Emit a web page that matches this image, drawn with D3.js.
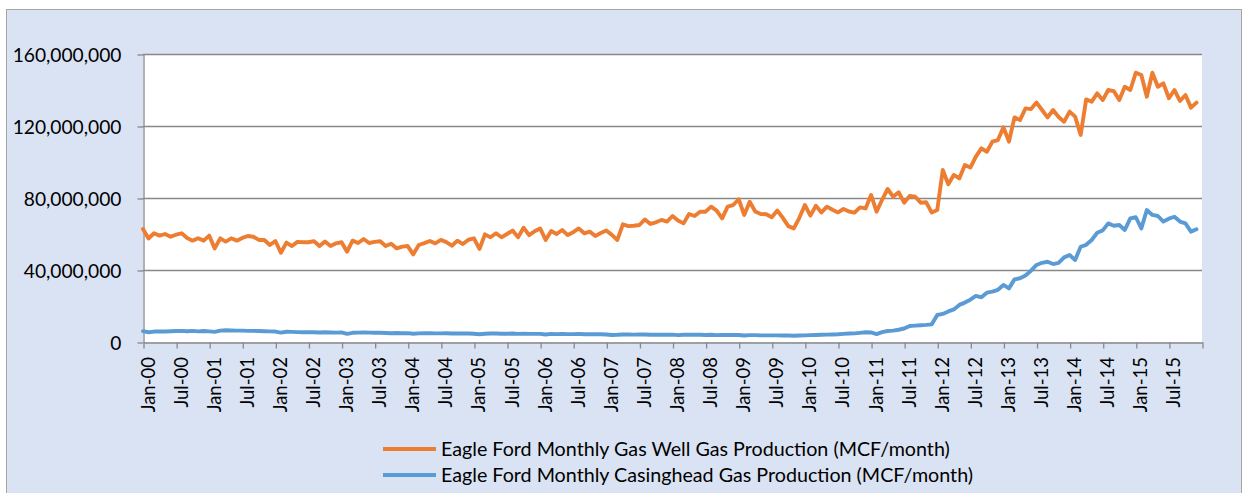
<!DOCTYPE html>
<html>
<head>
<meta charset="utf-8">
<script src="https://cdn.jsdelivr.net/npm/d3@7"></script>
<style>
  html, body { margin: 0; padding: 0; background: #ffffff; }
  svg { display: block; }
  text { font-family: Lato, "Open Sans", sans-serif; fill: #000; }
</style>
</head>
<body>
<svg id="chart" width="1243" height="493"></svg>
<script>
// ---- Data (million MCF/month), monthly Jan-2000 .. Dec-2015 ----
const startYear = 2000;
const monthNames = ["Jan","Feb","Mar","Apr","May","Jun","Jul","Aug","Sep","Oct","Nov","Dec"];
const seriesNames = [
  "Eagle Ford Monthly Gas Well Gas Production (MCF/month)",
  "Eagle Ford Monthly Casinghead Gas Production (MCF/month)"
];
const gasWell = [
  62.8,57.5,60.4,59.1,60.0,58.5,59.6,60.4,57.8,56.3,57.6,56.3,
  59.1,52.0,57.6,55.8,57.6,56.3,57.8,58.9,58.5,56.7,56.7,53.9,
  56.1,49.6,55.2,53.3,55.6,55.4,55.4,56.0,53.3,55.8,53.3,54.8,
  55.4,50.2,56.3,55.0,57.2,55.0,55.6,56.0,53.3,54.6,52.0,53.0,
  53.3,48.7,53.9,54.9,56.1,54.8,56.7,55.5,53.5,56.3,54.4,56.8,
  57.6,51.7,59.8,58.2,60.4,58.2,60.0,61.9,58.2,63.5,59.4,61.5,
  63.1,56.7,61.7,60.0,62.2,59.4,61.0,63.1,60.4,61.3,58.9,60.5,
  61.9,59.5,56.7,65.4,64.4,64.6,65.0,68.1,65.6,66.5,67.8,66.9,
  70.0,67.5,65.9,71.1,70.0,72.4,72.4,75.2,73.0,68.7,75.2,76.1,
  79.3,70.6,77.9,72.5,71.1,71.0,69.3,73.0,69.0,64.4,63.1,69.0,
  76.1,70.2,75.7,72.0,75.2,73.5,72.0,73.9,72.5,71.9,74.8,74.2,
  81.7,72.4,79.0,85.0,80.7,83.2,77.4,81.1,80.7,77.4,77.6,71.9,
  73.3,95.6,87.6,92.8,90.9,98.3,96.9,103.0,107.6,105.7,111.3,112.2,
  119.3,111.3,124.8,123.3,129.8,129.4,133.0,128.9,124.8,128.9,125.0,122.4,
  128.0,125.2,115.0,134.8,133.5,138.1,134.4,140.0,139.4,134.4,141.8,140.0,
  149.6,148.3,136.3,149.6,141.8,143.7,135.4,140.0,133.9,137.2,130.2,133.0
];
const casinghead = [
  6.0,5.4,5.8,5.9,5.8,6.0,6.1,6.2,6.0,6.2,5.9,6.1,
  5.9,5.6,6.3,6.5,6.4,6.3,6.3,6.2,6.2,6.1,6.0,5.9,
  5.8,5.2,5.7,5.6,5.5,5.4,5.5,5.4,5.3,5.4,5.3,5.2,
  5.3,4.5,5.1,5.2,5.3,5.2,5.1,5.1,5.0,4.9,5.0,4.9,
  4.9,4.6,4.8,4.9,4.9,4.8,4.8,4.9,4.7,4.8,4.7,4.7,
  4.6,4.3,4.6,4.7,4.7,4.6,4.6,4.7,4.5,4.6,4.5,4.5,
  4.5,4.2,4.5,4.4,4.5,4.4,4.4,4.5,4.3,4.4,4.3,4.3,
  4.2,3.9,4.0,4.2,4.2,4.1,4.2,4.2,4.0,4.1,4.0,4.0,
  4.1,3.8,4.0,4.1,4.0,4.0,3.9,4.0,3.8,3.9,3.9,3.9,
  3.9,3.6,3.8,3.8,3.7,3.7,3.7,3.7,3.6,3.6,3.5,3.6,
  3.7,3.8,3.9,4.0,4.1,4.2,4.3,4.5,4.7,4.8,5.1,5.4,
  5.3,4.4,5.5,6.1,6.3,6.8,7.5,8.9,9.1,9.3,9.5,9.8,
  15.0,15.6,17.0,18.1,20.6,21.9,23.5,25.6,24.8,27.4,28.0,29.0,
  31.7,29.8,34.8,35.4,37.0,39.6,42.8,44.0,44.6,43.3,44.0,47.0,
  48.3,45.6,52.9,54.0,56.7,60.7,62.0,65.9,64.6,65.0,62.2,68.7,
  69.3,63.1,73.3,70.6,70.0,66.9,68.5,69.6,66.9,65.9,61.3,62.6
];
const yTicks = [0, 40, 80, 120, 160];          // million
const xTickEvery = 6;                          // months between ticks
const colors = ["#ED7D31", "#5B9BD5"];

// ---- Layout ----
const svg = d3.select("#chart");
const plot = { left: 143, right: 1202, top: 54, bottom: 342 };
const nMonths = gasWell.length;                // 192

// outer chart frame
svg.append("rect").attr("x", 6.5).attr("y", 9.5)
  .attr("width", 1241.5 - 6.5).attr("height", 520)
  .attr("fill", "#DAE3F3").attr("stroke", "#A5A5A5").attr("stroke-width", 1);

// plot background
svg.append("rect").attr("x", plot.left).attr("y", plot.top)
  .attr("width", plot.right - plot.left).attr("height", plot.bottom - plot.top)
  .attr("fill", "#ffffff");

const x = d3.scaleLinear().domain([0, nMonths]).range([plot.left, plot.right]);
const y = d3.scaleLinear().domain([0, 160]).range([plot.bottom, plot.top]);

// gridlines
svg.append("g").selectAll("line").data(yTicks.slice(1)).join("line")
  .attr("x1", plot.left).attr("x2", plot.right)
  .attr("y1", d => Math.round(y(d)) + 0.5).attr("y2", d => Math.round(y(d)) + 0.5)
  .attr("stroke", "#888888").attr("stroke-width", 1.3);

// y axis
const yAxis = d3.axisLeft(y).tickValues(yTicks).tickSize(6).tickSizeOuter(0)
  .tickFormat(d => d3.format(",")(d * 1e6));
const gy = svg.append("g").attr("transform", `translate(${plot.left + 0.5},0.5)`).call(yAxis);
gy.select(".domain").attr("stroke", "#888888").attr("stroke-width", 1.3);
gy.selectAll(".tick line").attr("stroke", "#888888").attr("stroke-width", 1.3);
gy.selectAll(".tick text").attr("x", -22).attr("dy", "0.36em")
  .style("font-size", "19.2px").style("font-family", "Lato, sans-serif").attr("fill", "#000");

// x axis
const xTickVals = d3.range(0, nMonths + 1, xTickEvery);
const label = i => {
  if (i >= nMonths) return "";
  const m = i % 12, yr = startYear + Math.floor(i / 12);
  return monthNames[m] + "-" + String(yr % 100).padStart(2, "0");
};
const xAxis = d3.axisBottom(x).tickValues(xTickVals).tickSize(6).tickSizeOuter(0).tickFormat(label);
const gx = svg.append("g").attr("transform", `translate(0.5,${plot.bottom + 0.5})`).call(xAxis);
gx.select(".domain").attr("stroke", "#888888").attr("stroke-width", 1.3);
gx.selectAll(".tick line").attr("stroke", "#888888").attr("stroke-width", 1.3);
gx.selectAll(".tick text")
  .attr("transform", "rotate(-90)")
  .attr("x", -14.5).attr("y", 0).attr("dy", "10.5px")
  .attr("text-anchor", "end")
  .style("font-size", "18.5px").style("font-family", "Lato, sans-serif").attr("fill", "#000");

// lines
const series = [gasWell, casinghead];
const line = d3.line().x((d, i) => x(i)).y(d => y(d)).curve(d3.curveLinear);
series.forEach((s, k) => {
  svg.append("path").datum(s)
    .attr("d", line)
    .attr("fill", "none")
    .attr("stroke", colors[k])
    .attr("stroke-width", 3.9)
    .attr("stroke-linejoin", "round")
    .attr("stroke-linecap", "round");
});

// legend
const legendRows = [449, 475];
seriesNames.forEach((name, k) => {
  const g = svg.append("g");
  g.append("line").attr("x1", 383).attr("x2", 436)
    .attr("y1", legendRows[k]).attr("y2", legendRows[k])
    .attr("stroke", colors[k]).attr("stroke-width", 3.9);
  g.append("text").attr("x", 441).attr("y", legendRows[k]).attr("dy", "0.36em")
    .style("font-size", "19.7px").text(name);
});
</script>
</body>
</html>
